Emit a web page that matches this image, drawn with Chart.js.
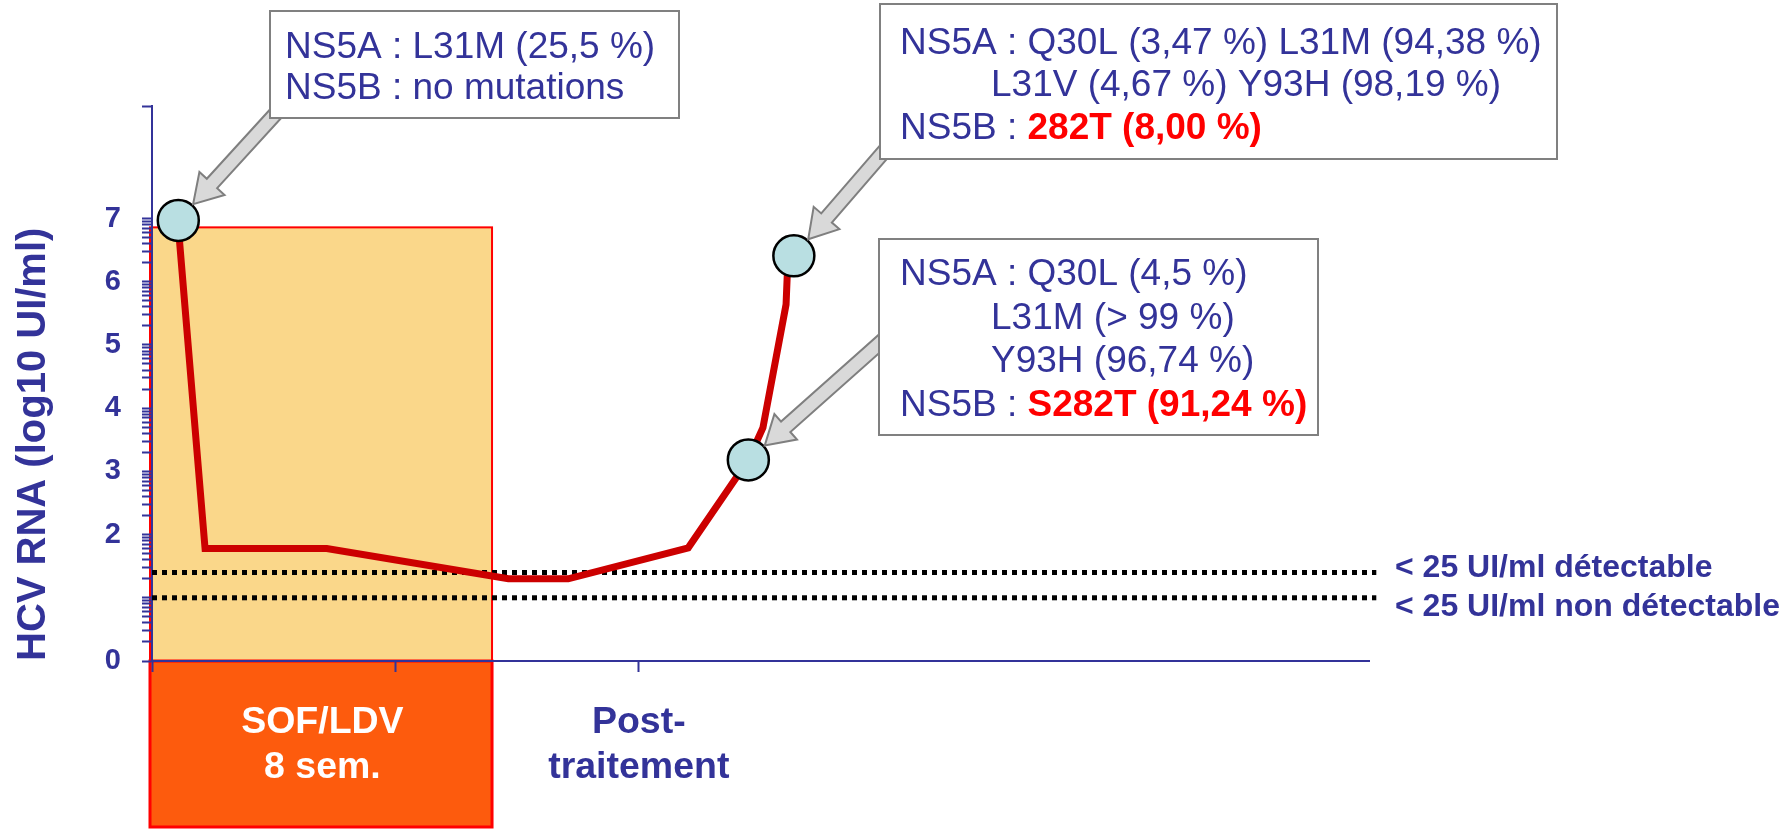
<!DOCTYPE html>
<html><head><meta charset="utf-8">
<script src="https://cdn.jsdelivr.net/npm/chart.js@4.4.1/dist/chart.umd.min.js"></script>
<style>html,body{margin:0;padding:0;background:#fff;overflow:hidden}</style>
</head><body>
<canvas id="c" width="1786" height="829"></canvas>
<script>
// ---- data ----
const timeX      = [0.106, 0.218, 0.718, 1.464, 1.710, 2.203, 2.450, 2.510, 2.605, 2.612];
const log10RNA   = [6.97, 1.78, 1.78, 1.30, 1.30, 1.79, 3.18, 3.69, 5.64, 6.30];
const sampleX    = [0.108, 2.450, 2.637];
const sampleY    = [6.97, 3.18, 6.41];
const thresholdY = [1.40, 1.00];
const thresholdLabels = ['< 25 UI/ml détectable', '< 25 UI/ml non détectable'];
const treatmentX = [0, 1.397];
const treatmentTopY = 6.86;
const xTickValues = [0, 0.7, 1, 2];
const xTickLabels = ['', ['SOF/LDV', '8 sem.'], '', ['Post-', 'traitement']];
const xTickMarked = [true, false, true, true];
const xTickLabelColors = ['#333399', '#ffffff', '#333399', '#333399'];
const yTickLabels = ['0', '', '2', '3', '4', '5', '6', '7'];
const yAxisTitle = 'HCV RNA (log10 UI/ml)';
const yMax = 8.78;
const xMax = 5;
// annotation texts (runs: [text, style]) ; style n = normal blue, r = bold red
const note1 = [[['NS5A : L31M (25,5 %)', 'n']], [['NS5B : no mutations', 'n']]];
const note2 = [[['NS5A : Q30L (3,47 %) L31M (94,38 %)', 'n']], [['L31V (4,67 %) Y93H (98,19 %)', 'n']], [['NS5B : ', 'n'], ['282T (8,00 %)', 'r']]];
const note3 = [[['NS5A : Q30L (4,5 %)', 'n']], [['L31M (> 99 %)', 'n']], [['Y93H (96,74 %)', 'n']], [['NS5B : ', 'n'], ['S282T (91,24 %)', 'r']]];

// ---- style / layout ----
const BLUE = '#333399';
const SANS = '"Liberation Sans", Arial, sans-serif';

const notesLayout = [
  {lines: note1, sample: 0, box: [270, 11, 409, 107], textX: [285, 285], lineY: [48, 89], tail: [300, 87]},
  {lines: note2, sample: 2, box: [880, 4, 677, 155], textX: [900, 991, 900], lineY: [44, 86, 129], tail: [900, 133]},
  {lines: note3, sample: 1, box: [879, 239, 439, 196], textX: [900, 991, 991, 900], lineY: [275, 319, 362, 406], tail: [898, 327]}
];

function yTicks() {
  const t = [];
  for (let n = 0; n < 7; n++) for (let k = 1; k <= 9; k++) t.push(n + Math.log10(k));
  t.push(7, yMax);
  return t;
}

function drawArrow(ctx, tx, ty, fx, fy) {
  const ang = Math.atan2(fy - ty, fx - tx);
  const len = Math.hypot(fx - tx, fy - ty);
  const hl = 28, hw = 17, sw = 7;
  ctx.save();
  ctx.translate(tx, ty); ctx.rotate(ang);
  ctx.beginPath();
  ctx.moveTo(0, 0); ctx.lineTo(hl, -hw); ctx.lineTo(hl, -sw); ctx.lineTo(len, -sw);
  ctx.lineTo(len, sw); ctx.lineTo(hl, sw); ctx.lineTo(hl, hw); ctx.closePath();
  ctx.fillStyle = '#d9d9d9'; ctx.fill();
  ctx.strokeStyle = '#7f7f7f'; ctx.lineWidth = 2; ctx.lineJoin = 'miter'; ctx.stroke();
  ctx.restore();
}

const backgroundBoxes = {
  id: 'backgroundBoxes',
  beforeDraw(chart) {
    const {ctx, scales: {x, y}} = chart;
    const x0 = x.getPixelForValue(treatmentX[0]) - 2;
    const x1 = x.getPixelForValue(treatmentX[1]);
    const yTop = y.getPixelForValue(treatmentTopY);
    const y0 = y.getPixelForValue(0);
    ctx.save();
    ctx.fillStyle = '#fad78a';
    ctx.fillRect(x0, yTop, x1 - x0, y0 - yTop);
    ctx.strokeStyle = '#ff0000'; ctx.lineWidth = 2;
    ctx.strokeRect(x0, yTop, x1 - x0, y0 - yTop);
    ctx.fillStyle = '#fd5b0d';
    ctx.fillRect(x0, y0, x1 - x0, chart.height - 2 - y0);
    ctx.lineWidth = 3;
    ctx.strokeRect(x0, y0, x1 - x0, chart.height - 2 - y0);
    ctx.restore();
  }
};

const annotations = {
  id: 'annotations',
  afterDraw(chart) {
    const {ctx, scales: {x, y}} = chart;
    ctx.save();
    // threshold labels
    ctx.font = 'bold 32px ' + SANS;
    ctx.fillStyle = BLUE; ctx.textBaseline = 'middle'; ctx.textAlign = 'left';
    const offs = [-4, 9];
    thresholdY.forEach((v, i) => ctx.fillText(thresholdLabels[i], 1395, y.getPixelForValue(v) + offs[i]));
    // notes
    notesLayout.forEach(n => {
      const cx = x.getPixelForValue(sampleX[n.sample]);
      const cy = y.getPixelForValue(sampleY[n.sample]);
      const dx = n.tail[0] - cx, dy = n.tail[1] - cy, d = Math.hypot(dx, dy);
      drawArrow(ctx, cx + dx / d * 22, cy + dy / d * 22, n.tail[0], n.tail[1]);
      const [bx, by, bw, bh] = n.box;
      ctx.fillStyle = '#ffffff'; ctx.fillRect(bx, by, bw, bh);
      ctx.strokeStyle = '#808080'; ctx.lineWidth = 2; ctx.strokeRect(bx, by, bw, bh);
      n.lines.forEach((runs, li) => {
        let px = n.textX[li];
        runs.forEach(([t, s]) => {
          ctx.font = (s === 'r' ? 'bold ' : '') + '37px ' + SANS;
          ctx.fillStyle = s === 'r' ? '#ff0000' : BLUE;
          ctx.fillText(t, px, n.lineY[li]);
          px += ctx.measureText(t).width;
        });
      });
    });
    ctx.restore();
  }
};

const pts = (xs, ys) => xs.map((v, i) => ({x: v, y: ys[i]}));

new Chart(document.getElementById('c'), {
  type: 'scatter',
  data: {
    datasets: [
      ...thresholdY.map(v => ({
        data: [{x: 0, y: v}, {x: 5.03, y: v}], showLine: true, clip: false,
        borderColor: '#000000', borderWidth: 5, borderDash: [5, 5], pointRadius: 0, order: 3
      })),
      {data: pts(timeX, log10RNA), showLine: true, borderColor: '#cc0000', borderWidth: 7,
       borderJoinStyle: 'miter', pointRadius: 0, order: 2},
      {data: pts(sampleX, sampleY), showLine: false, pointRadius: 20.5, pointBackgroundColor: '#b9dfe2',
       pointBorderColor: '#000000', pointBorderWidth: 2.5, order: 1}
    ]
  },
  options: {
    responsive: false, animation: false, devicePixelRatio: 1,
    layout: {padding: {top: 106, right: 417, left: 0, bottom: 0}},
    plugins: {legend: {display: false}, tooltip: {enabled: false}},
    scales: {
      x: {
        type: 'linear', min: 0, max: xMax,
        border: {color: BLUE, width: 2},
        grid: {drawOnChartArea: false, tickLength: 11, tickWidth: 2,
               tickColor: c => (c.index !== undefined && xTickMarked[c.index]) ? BLUE : 'rgba(0,0,0,0)'},
        ticks: {autoSkip: false, maxRotation: 0, padding: 28,
                font: {family: SANS, size: 37.5, weight: 'bold', lineHeight: 1.2},
                color: c => xTickLabelColors[c.index] || BLUE,
                callback: (v, i) => xTickLabels[i]},
        afterBuildTicks: s => { s.ticks = xTickValues.map(v => ({value: v})); },
        afterFit: s => { s.height = 168; }
      },
      y: {
        type: 'linear', min: 0, max: yMax,
        border: {color: BLUE, width: 2},
        grid: {drawOnChartArea: false, tickLength: 10, tickWidth: 2, tickColor: BLUE},
        ticks: {autoSkip: false, padding: 21, color: BLUE,
                font: {family: SANS, size: 29, weight: 'bold'},
                callback: v => (Math.abs(v - Math.round(v)) < 1e-9 && v <= 7) ? yTickLabels[Math.round(v)] : ''},
        afterBuildTicks: s => { s.ticks = yTicks().map(v => ({value: v})); },
        title: {display: true, text: yAxisTitle, color: BLUE, align: 'start',
                font: {family: SANS, size: 40, weight: 'bold'}, padding: {top: 10, bottom: 0}},
        afterFit: s => { s.width = 152; }
      }
    }
  },
  plugins: [backgroundBoxes, annotations]
});
</script>
</body></html>
